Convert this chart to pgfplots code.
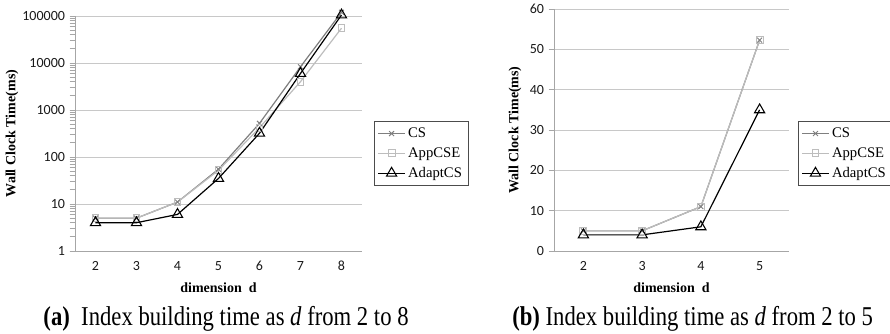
\documentclass[border=0pt]{standalone}
\usepackage{fontspec}
\setmainfont{Liberation Serif}
\newfontfamily\tickfont{Carlito}
\usepackage{graphicx}
\usepackage{pgfplots}
\pgfplotsset{compat=1.18}
\definecolor{csgray}{HTML}{7F7F7F}
\definecolor{appgray}{HTML}{BDBDBD}
\definecolor{gridgray}{HTML}{C8C8C8}
\definecolor{axgray}{HTML}{A6A6A6}
\pgfplotsset{
  common/.style={
    scale only axis,
    axis lines*=left,
    axis line style={axgray, line width=0.6pt},
    ymajorgrids,
    grid style={gridgray, line width=0.6pt},
    tick label style={font=\tickfont\fontsize{10.5}{12}\selectfont, text=black!90},
    /pgf/number format/assume math mode=true,
    xtick=data,
    xtick style={draw=none},
    minor x tick style={axgray, line width=0.6pt},
    minor tick length=4pt,
    ytick style={axgray, line width=0.6pt},
    major tick length=4pt,
    tick align=outside,
    clip=false,
    label style={font=\bfseries\fontsize{10.5}{12}\selectfont},
    xlabel={dimension\ \ d},
    ylabel={Wall Clock Time(ms)},
    legend cell align=left,
    legend style={font=\fontsize{11}{12}\selectfont, draw=black!70, line width=0.5pt, row sep=2pt, inner sep=2.5pt},
    legend image code/.code={
      \draw[mark repeat=2,mark phase=2,#1] plot coordinates {(0cm,0cm) (0.35cm,0cm) (0.7cm,0cm)};
    },
  },
  cs/.style={csgray, line width=0.9pt, mark=x, mark size=2.6pt, mark options={solid, line width=0.7pt}},
  app/.style={appgray, line width=0.9pt, mark=square, mark size=2.6pt, mark options={solid, line width=0.7pt}},
  ada/.style={black, line width=0.9pt, mark=triangle, mark size=4.4pt, mark options={solid, line width=0.8pt}},
}
\begin{document}
\begin{tikzpicture}
\path[use as bounding box] (0,0) rectangle (667.5pt,249.75pt);
\begin{axis}[common,
  at={(56.25pt,61.5pt)}, anchor=south west,
  width=215.25pt, height=176.25pt,
  ymode=log, ymin=1, ymax=100000,
  ytick={1,10,100,1000,10000,100000},
  yticklabels={1,10,100,1000,10000,100000},
  xmin=1.5, xmax=8.5,
  minor xtick={1.5,2.5,...,8.5},
  xlabel style={at={(axis description cs:0.5,-0.157)}, anchor=center},
  ylabel style={at={(axis description cs:-0.2195,0.5)}, anchor=center},
  legend style={at={(1.042,0.415)}, anchor=west},
]
\addplot[cs] coordinates {(2,5) (3,5) (4,11) (5,55) (6,520) (7,8300) (8,120000)};
\addlegendentry{CS}
\addplot[app] coordinates {(2,5) (3,5) (4,11) (5,52) (6,420) (7,4000) (8,55000)};
\addlegendentry{AppCSE}
\addplot[ada] coordinates {(2,4) (3,4) (4,6) (5,35) (6,320) (7,6000) (8,105000)};
\addlegendentry{AdaptCS}
\end{axis}
\begin{axis}[common,
  at={(415.5pt,61.5pt)}, anchor=south west,
  width=176.25pt, height=181.5pt,
  ymin=0, ymax=60, ytick={0,10,...,60},
  xmin=1.5, xmax=5.5,
  minor xtick={1.5,2.5,...,5.5},
  xlabel style={at={(axis description cs:0.5,-0.153)}, anchor=center},
  ylabel style={at={(axis description cs:-0.166,0.5)}, anchor=center},
  legend style={at={(1.038,0.403)}, anchor=west},
]
\addplot[cs] coordinates {(2,5) (3,5) (4,11) (5,52.3)};
\addlegendentry{CS}
\addplot[app] coordinates {(2,5) (3,5) (4,11) (5,52.3)};
\addlegendentry{AppCSE}
\addplot[ada] coordinates {(2,4) (3,4) (4,6) (5,35)};
\addlegendentry{AdaptCS}
\end{axis}
\node[anchor=base west, inner sep=0pt, font=\fontsize{17}{19}\selectfont] at (32.4pt,6pt) {\scalebox{1}[1.2]{\textbf{(a)}\ \ Index building time as \textit{d} from 2 to 8}};
\node[anchor=base west, inner sep=0pt, font=\fontsize{17}{19}\selectfont] at (384pt,6pt) {\scalebox{1}[1.2]{\textbf{(b)}\ Index building time as \textit{d} from 2 to 5}};
\end{tikzpicture}
\end{document}
